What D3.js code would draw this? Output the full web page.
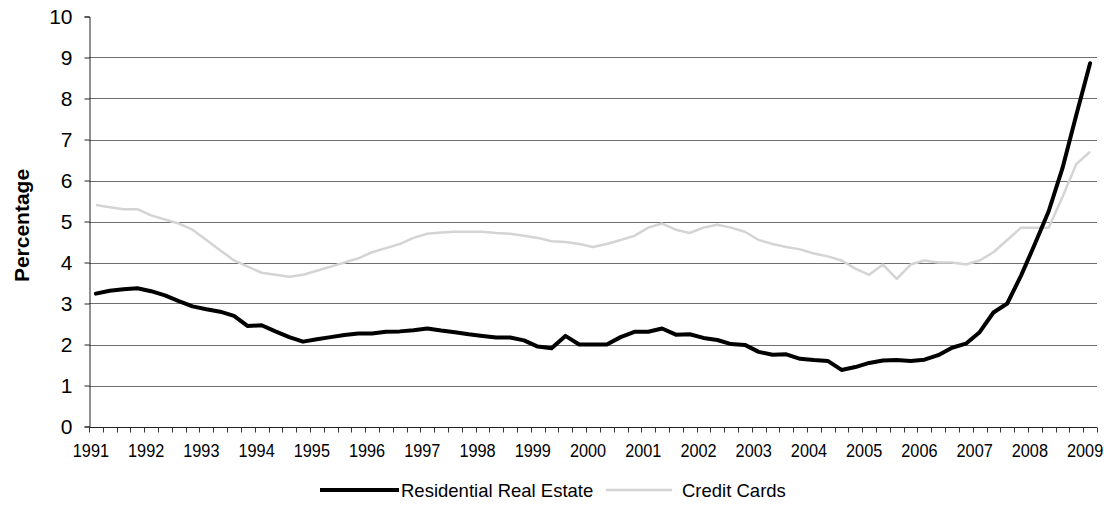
<!DOCTYPE html>
<html>
<head>
<meta charset="utf-8">
<script src="https://cdn.jsdelivr.net/npm/d3@7"></script>
<style>
  html, body { margin: 0; padding: 0; background: #fff; }
  svg { display: block; font-family: "Liberation Sans", Arial, sans-serif; }
</style>
</head>
<body>
<svg id="chart" width="1104" height="524"></svg>
<script>
// ---- Data (quarterly, 1991Q1 .. 2009Q1) ----
const years = d3.range(1991, 2010);
const quarters = [];
years.forEach(y => { [1,2,3,4].forEach(q => { if (!(y === 2009 && q > 1)) quarters.push(y + "Q" + q); }); });

const yearLabels = ["1991","1992","1993","1994","1995","1996","1997","1998","1999","2000",
                    "2001","2002","2003","2004","2005","2006","2007","2008","2009"];

const residentialRealEstate = [
  3.24, 3.31, 3.35, 3.37, 3.30, 3.20, 3.06, 2.93,
  2.86, 2.80, 2.70, 2.45, 2.47, 2.32, 2.18, 2.07,
  2.13, 2.18, 2.23, 2.27, 2.27, 2.31, 2.32, 2.35,
  2.39, 2.34, 2.30, 2.25, 2.21, 2.17, 2.17, 2.10,
  1.95, 1.91, 2.21, 2.00, 2.00, 2.00, 2.18, 2.31,
  2.31, 2.39, 2.24, 2.25, 2.16, 2.11, 2.01, 1.99,
  1.82, 1.75, 1.76, 1.65, 1.62, 1.60, 1.38, 1.45,
  1.55, 1.61, 1.62, 1.60, 1.63, 1.74, 1.92, 2.02,
  2.30, 2.78, 3.00, 3.68, 4.45, 5.25, 6.30, 7.60,
  8.86
];

const creditCards = [
  5.40, 5.35, 5.30, 5.30, 5.15, 5.05, 4.95, 4.80,
  4.55, 4.30, 4.05, 3.90, 3.75, 3.70, 3.65, 3.70,
  3.80, 3.90, 4.00, 4.10, 4.25, 4.35, 4.45, 4.60,
  4.70, 4.73, 4.75, 4.75, 4.75, 4.72, 4.70, 4.65,
  4.60, 4.52, 4.50, 4.45, 4.38, 4.45, 4.55, 4.65,
  4.85, 4.95, 4.80, 4.72, 4.85, 4.92, 4.85, 4.75,
  4.55, 4.45, 4.38, 4.32, 4.22, 4.15, 4.05, 3.85,
  3.70, 3.95, 3.60, 3.95, 4.05, 4.00, 4.00, 3.95,
  4.05, 4.25, 4.55, 4.85, 4.85, 4.85, 5.60, 6.40,
  6.70
];

const yTicks = [0,1,2,3,4,5,6,7,8,9,10];
const seriesNames = ["Residential Real Estate", "Credit Cards"];

// ---- Layout ----
const svg = d3.select("#chart");
const L = 89, R = 1097, T = 16.5, B = 426.5;

const x = d3.scaleBand().domain(quarters).range([L, R]).paddingInner(0).paddingOuter(0);
const xc = q => x(q) + x.bandwidth() / 2;
const y = d3.scaleLinear().domain([0, 10]).range([B, T]);

// gridlines
svg.append("g")
  .selectAll("line")
  .data(yTicks.filter(v => v > 0 && v < 10))
  .join("line")
  .attr("x1", L).attr("x2", R)
  .attr("y1", d => Math.round(y(d)) + 0.5).attr("y2", d => Math.round(y(d)) + 0.5)
  .attr("stroke", "#6f6f6f").attr("stroke-width", 1);

// y axis
const yAxis = d3.axisLeft(y).tickValues(yTicks).tickSize(5).tickPadding(12).tickFormat(d3.format("d"));
const gy = svg.append("g").attr("transform", `translate(${L + 0.5},0)`).call(yAxis);
gy.select(".domain").attr("stroke", "#222");
gy.selectAll(".tick line").attr("stroke", "#222");
gy.selectAll(".tick text").attr("font-size", 21).attr("fill", "#000")
  .attr("font-family", "'Liberation Sans', Arial, sans-serif");

// x axis: ticks at category boundaries
const gx = svg.append("g").attr("transform", `translate(0,${Math.round(B) + 0.5})`);
gx.append("line").attr("x1", L).attr("x2", R).attr("stroke", "#222");
const boundaries = quarters.map(q => x(q)).concat([R]);
gx.selectAll("line.tk").data(boundaries).join("line").attr("class", "tk")
  .attr("x1", d => Math.round(d) + 0.5).attr("x2", d => Math.round(d) + 0.5)
  .attr("y1", 0).attr("y2", 5).attr("stroke", "#333");

const labelQuarters = quarters.filter((q, i) => i % 4 === 0);
gx.selectAll("text").data(labelQuarters).join("text")
  .attr("transform", (q, i) => `translate(${xc(q) - 5},${29}) scale(0.88,1)`)
  .attr("text-anchor", "middle")
  .attr("font-size", 18.5)
  .attr("fill", "#000")
  .text((q, i) => yearLabels[i]);

// y axis title
svg.append("text")
  .attr("transform", `translate(29,${(T + B) / 2 + 4}) rotate(-90)`)
  .attr("text-anchor", "middle")
  .attr("font-size", 21).attr("font-weight", "bold")
  .text("Percentage");

// lines
const line = d3.line().x((d, i) => xc(quarters[i])).y(d => y(d));
svg.append("path").datum(creditCards).attr("d", line)
  .attr("fill", "none").attr("stroke", "#d4d4d4").attr("stroke-width", 2.5)
  .attr("stroke-linejoin", "round");
svg.append("path").datum(residentialRealEstate).attr("d", line)
  .attr("fill", "none").attr("stroke", "#000").attr("stroke-width", 4)
  .attr("stroke-linejoin", "round").attr("stroke-linecap", "round");

// legend
const lg = svg.append("g");
lg.append("line").attr("x1", 320).attr("x2", 399).attr("y1", 490).attr("y2", 490)
  .attr("stroke", "#000").attr("stroke-width", 4);
lg.append("text").attr("x", 401).attr("y", 497).attr("font-size", 18.5).text(seriesNames[0]);
lg.append("line").attr("x1", 606).attr("x2", 672).attr("y1", 490).attr("y2", 490)
  .attr("stroke", "#d4d4d4").attr("stroke-width", 2.5);
lg.append("text").attr("x", 682).attr("y", 497).attr("font-size", 18.5).text(seriesNames[1]);
</script>
</body>
</html>
